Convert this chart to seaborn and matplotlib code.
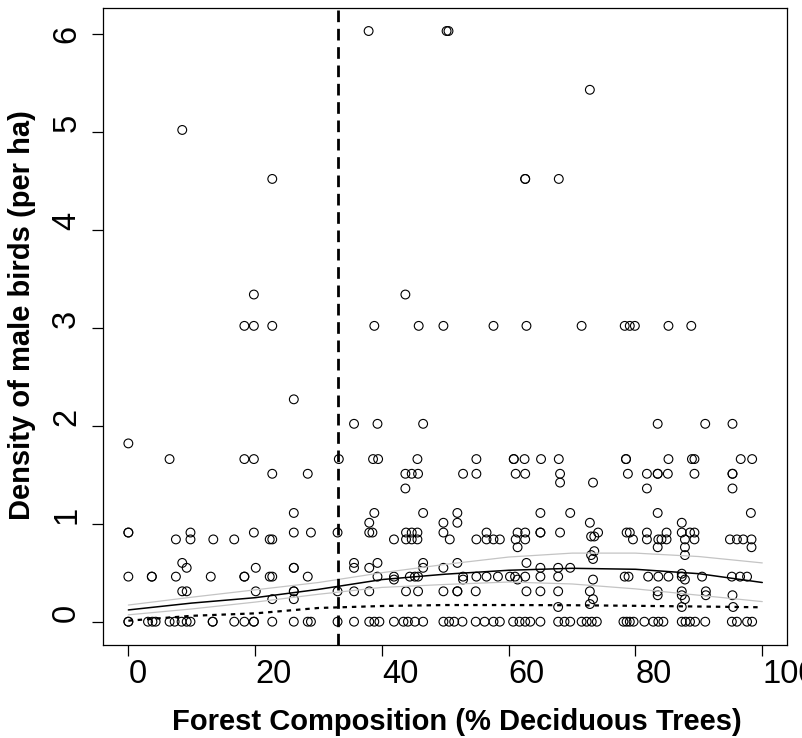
import numpy as np
import pandas as pd
import matplotlib
matplotlib.use("Agg")
import matplotlib.pyplot as plt
import seaborn as sns

# ---- data: density level -> forest composition (% deciduous) of surveyed sites
lvl_603 = [37.9, 50.2, 50.5]
lvl_543 = [72.8]
lvl_502 = [8.5]
lvl_452 = [22.7, 62.6, 62.6, 67.9]
lvl_334 = [19.8, 43.7]
lvl_302 = [18.3, 19.8, 22.7, 38.8, 45.8, 49.7, 57.6, 62.8, 71.5, 78.3, 79.1, 79.9, 85.2, 88.8]
lvl_227 = [26.1]
lvl_202 = [35.6, 39.3, 46.5, 83.5, 91.0, 95.3]
lvl_182 = [0.0]
lvl_166 = [6.5, 18.3, 19.8, 33.2, 38.6, 39.4, 45.6, 54.9, 60.8, 60.8, 62.5, 65.1, 67.9,
           78.5, 78.5, 85.2, 88.9, 89.3, 96.6, 98.4]
lvl_151 = [22.7, 28.3, 43.7, 44.7, 45.7, 52.8, 54.9, 61.1, 62.6, 68.1, 78.8, 81.8, 83.5,
           83.5, 85.1, 89.3, 95.3, 95.3]
lvl_142 = [68.1, 73.3]
lvl_136 = [43.7, 81.8, 95.3]
lvl_111 = [26.1, 38.8, 46.5, 51.9, 65.0, 69.7, 83.5, 98.2]
lvl_101 = [38.0, 49.7, 51.9, 72.8, 87.3]
lvl_091 = [0.0, 0.0, 9.8, 19.8, 26.1, 28.8, 33.0, 38.0, 38.5, 43.8, 44.7, 45.6, 49.7, 56.5,
           61.4, 62.6, 65.0, 65.0, 68.1, 74.1, 78.6, 79.1, 81.8, 84.9, 87.3, 88.6, 89.3]
lvl_087 = [73.0, 73.5]
lvl_084 = [7.5, 9.8, 13.4, 16.7, 22.3, 22.7, 41.9, 43.8, 44.7, 45.6, 50.7, 54.9, 56.5, 57.6,
           58.6, 61.1, 62.6, 79.6, 81.8, 83.6, 84.1, 84.9, 87.8, 89.3, 94.9, 96.0, 97.0, 98.3]
lvl_076 = [61.4, 83.5, 87.8, 98.3]
lvl_072 = [73.5]
lvl_068 = [73.0, 87.8]
lvl_064 = [73.3]
lvl_060 = [8.5, 35.6, 39.3, 46.5, 51.9, 62.8]
lvl_055 = [9.2, 20.1, 26.1, 26.1, 35.6, 38.0, 46.5, 49.7, 65.0, 67.8, 69.7]
lvl_049 = [87.3]
lvl_046 = [0.0, 3.7, 3.7, 7.5, 13.0, 18.3, 18.3, 22.3, 22.7, 28.3, 39.3, 41.9, 44.4, 45.2,
           45.7, 52.8, 54.9, 56.5, 58.3, 60.2, 61.0, 62.6, 65.0, 67.8, 78.3, 78.9, 82.0, 83.6,
           85.2, 87.3, 90.5, 95.2, 96.5, 97.6]
lvl_043 = [41.9, 52.8, 61.4, 73.3, 87.8]
lvl_031 = [8.5, 9.2, 20.1, 26.1, 26.1, 33.0, 35.6, 38.0, 43.8, 45.7, 49.7, 51.9, 51.9, 54.8,
           62.8, 65.0, 67.8, 72.8, 83.5, 87.3, 91.1]
lvl_027 = [83.5, 87.3, 91.1, 95.3]
lvl_023 = [22.7, 26.1, 73.3, 87.8]
lvl_018 = [72.8]
lvl_015 = [67.8, 87.3, 95.4]
lvl_000 = [0.0, 0.0, 3.1, 3.8, 4.3, 6.5, 7.3, 8.4, 9.2, 9.8, 13.3, 13.3, 16.7, 18.3, 19.8,
           19.8, 22.7, 26.1, 28.3, 28.8, 33.0, 35.6, 38.0, 38.8, 39.6, 41.9, 43.4, 44.1, 45.2,
           46.5, 49.7, 50.6, 51.4, 52.7, 54.8, 56.2, 57.6, 58.6, 60.7, 61.7, 62.6, 63.4, 65.0,
           67.8, 68.8, 69.7, 71.5, 72.3, 73.1, 73.9, 78.1, 78.6, 79.1, 79.7, 81.4, 82.8, 83.6,
           84.4, 87.3, 87.9, 88.6, 89.4, 91.0, 95.2, 96.0, 97.6, 98.4]

density_values = [6.03, 5.43, 5.02, 4.52, 3.34, 3.02, 2.27, 2.02, 1.82, 1.66, 1.51, 1.42,
                  1.36, 1.11, 1.01, 0.91, 0.87, 0.84, 0.76, 0.72, 0.68, 0.64, 0.60, 0.55,
                  0.49, 0.46, 0.43, 0.31, 0.27, 0.23, 0.18, 0.15, 0.0]
level_lists = [lvl_603, lvl_543, lvl_502, lvl_452, lvl_334, lvl_302, lvl_227, lvl_202,
               lvl_182, lvl_166, lvl_151, lvl_142, lvl_136, lvl_111, lvl_101, lvl_091,
               lvl_087, lvl_084, lvl_076, lvl_072, lvl_068, lvl_064, lvl_060, lvl_055,
               lvl_049, lvl_046, lvl_043, lvl_031, lvl_027, lvl_023, lvl_018, lvl_015, lvl_000]

# fitted curves
curve_x = [0, 10, 20, 30, 40, 50, 60, 70, 80, 90, 100]
fit_mean = [0.12, 0.19, 0.245, 0.33, 0.43, 0.485, 0.525, 0.545, 0.535, 0.49, 0.40]
fit_upper = [0.17, 0.25, 0.325, 0.40, 0.50, 0.585, 0.66, 0.70, 0.70, 0.665, 0.60]
fit_lower = [0.07, 0.13, 0.20, 0.28, 0.35, 0.38, 0.405, 0.385, 0.335, 0.27, 0.205]
fit_dotted = [0.01, 0.06, 0.085, 0.14, 0.16, 0.17, 0.17, 0.168, 0.162, 0.155, 0.147]
threshold_x = 33.0

x_ticks = [0, 20, 40, 60, 80, 100]
y_ticks = [0, 1, 2, 3, 4, 5, 6]

# ---- build tables
pts = pd.DataFrame({
    "forest": [x for xs in level_lists for x in xs],
    "density": [d for d, xs in zip(density_values, level_lists) for _ in xs],
})
curves = pd.DataFrame({"x": curve_x, "mean": fit_mean, "upper": fit_upper,
                       "lower": fit_lower, "dotted": fit_dotted})

sns.set_style("white")
plt.rcParams["font.family"] = ["Liberation Sans", "DejaVu Sans"]
plt.rcParams["text.color"] = "black"
plt.rcParams["axes.labelcolor"] = "black"
plt.rcParams["xtick.color"] = "black"
plt.rcParams["ytick.color"] = "black"

fig = plt.figure(figsize=(8.02, 7.38), dpi=100)
ax = fig.add_axes([103 / 802, (738 - 645) / 738, 684 / 802, 637 / 738])

sns.scatterplot(data=pts, x="forest", y="density", ax=ax, marker="o", s=40,
                facecolors="none", edgecolor="black", linewidth=0.8, zorder=2)
sns.lineplot(data=curves, x="x", y="upper", ax=ax, color="#c4c4c4", lw=0.9, zorder=3)
sns.lineplot(data=curves, x="x", y="lower", ax=ax, color="#c4c4c4", lw=0.9, zorder=3)
sns.lineplot(data=curves, x="x", y="mean", ax=ax, color="black", lw=1.1, zorder=4)
sns.lineplot(data=curves, x="x", y="dotted", ax=ax, color="black", lw=1.6,
             linestyle=(0, (2.0, 2.2)), zorder=4)
ax.axvline(threshold_x, color="black", lw=2.0, linestyle=(0, (4.2, 2.4)), zorder=5)

ax.set_xlim(-4.0, 103.9)
ax.set_ylim(-0.238, 6.265)

for sp in ax.spines.values():
    sp.set_visible(True)
    sp.set_color("black")
    sp.set_linewidth(0.9)

ax.set_xticks(x_ticks, [str(v) for v in x_ticks])
ax.set_yticks(y_ticks, [str(v) for v in y_ticks])
ax.tick_params(axis="both", direction="out", length=8, width=0.9, color="black",
               labelcolor="black", labelsize=23.5, bottom=True, left=True)
ax.tick_params(axis="x", pad=2)
ax.tick_params(axis="y", pad=7)
for lab in ax.get_xticklabels():
    lab.set_ha("left")
for lab in ax.get_yticklabels():
    lab.set_rotation(90)
    lab.set_va("bottom")
    lab.set_ha("right")
ax.get_yticklabels()[-1].set_va("center")

ax.set_xlabel("Forest Composition (% Deciduous Trees)", fontsize=21, fontweight="bold",
              color="black")
ax.set_ylabel("Density of male birds (per ha)", fontsize=21, fontweight="bold",
              color="black")
ax.xaxis.set_label_coords(0.5175, -0.121)
ax.xaxis.label.set_va("center")
ax.yaxis.set_label_coords(-0.118, 0.518)
ax.yaxis.label.set_va("center")

fig.savefig("out.png", dpi=100)
